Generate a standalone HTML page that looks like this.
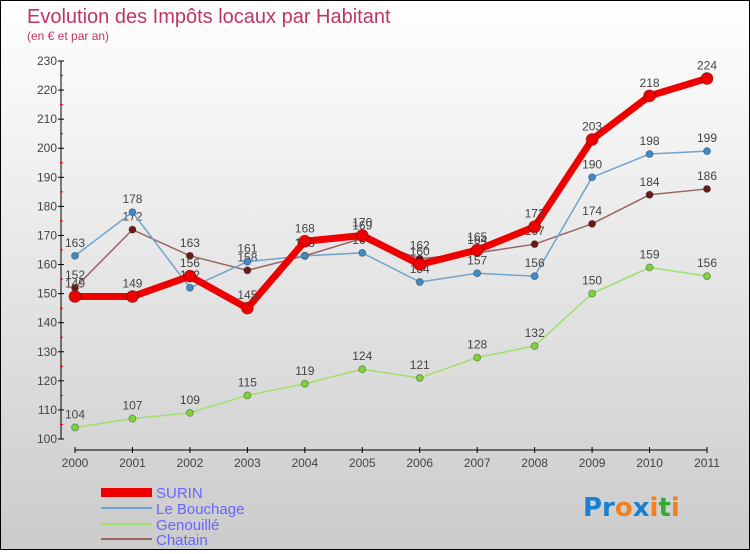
<!DOCTYPE html>
<html><head><meta charset="utf-8"><style>
body{margin:0}
#c{width:748px;height:548px;border:1px solid #000;background:linear-gradient(#fff,#f0f0f0 30%,#cbcbcb);position:relative;font-family:"Liberation Sans",sans-serif}
</style></head><body>
<div id="c">
<svg id="s" width="748" height="548" xmlns="http://www.w3.org/2000/svg">
<text x="26" y="22" font-size="20" fill="#c0355f">Evolution des Impôts locaux par Habitant</text>
<text x="26" y="39" font-size="12" fill="#c0355f">(en € et par an)</text>
<g id="g"></g>
<g>
<rect x="100" y="487" width="51" height="9" fill="#e00"/>
<text x="155" y="497" font-size="15" fill="#66f">SURIN</text>
<line x1="100" y1="507" x2="151" y2="507" stroke="#6fa3cf" stroke-width="2"/>
<text x="155" y="513" font-size="15" fill="#66f">Le Bouchage</text>
<line x1="100" y1="523" x2="151" y2="523" stroke="#9de06a" stroke-width="2"/>
<text x="155" y="529" font-size="15" fill="#66f">Genouillé</text>
<line x1="100" y1="538" x2="151" y2="538" stroke="#9a6565" stroke-width="2"/>
<text x="155" y="544" font-size="15" fill="#66f">Chatain</text>
</g>
<text x="582" y="515" font-size="26" font-weight="bold" font-family="DejaVu Sans,sans-serif"><tspan fill="#1a7fd0">Pr</tspan><tspan fill="#f08020">o</tspan><tspan fill="#1a7fd0">x</tspan><tspan fill="#f08020">i</tspan><tspan fill="#3a3">t</tspan><tspan fill="#f08020">i</tspan></text>
</svg></div>
<script>
const years=["2000","2001","2002","2003","2004","2005","2006","2007","2008","2009","2010","2011"];
const surin=[149,149,156,145,168,170,160,165,173,203,218,224];
const bouchage=[163,178,152,161,163,164,154,157,156,190,198,199];
const genouille=[104,107,109,115,119,124,121,128,132,150,159,156];
const chatain=[152,172,163,158,163,169,162,164,167,174,184,186];
const yTicks=[100,110,120,130,140,150,160,170,180,190,200,210,220,230];
const NS="http://www.w3.org/2000/svg";
const g=document.getElementById('g');
const X=i=>74+i*(632/11);
const Y=v=>438-(v-100)*(378/130);
function el(t,a){const e=document.createElementNS(NS,t);for(const k in a)e.setAttribute(k,a[k]);g.appendChild(e);return e;}
let e=el('line',{x1:60,y1:Y(230),x2:60,y2:Y(100),stroke:'#000'});

e=el('line',{x1:74,y1:449,x2:706,y2:449,stroke:'#000'});

yTicks.forEach((v,i)=>{
 let t=el('line',{x1:57,y1:Y(v),x2:63,y2:Y(v),stroke:'#000'});
 
 if(i<yTicks.length-1){let m=el('line',{x1:59,y1:Y(v+5),x2:62,y2:Y(v+5),stroke:'#e00'});
 }
 let l=el('text',{x:56,y:Y(v)+4,'font-size':12,fill:'#444','text-anchor':'end'});l.textContent=v;
 
});
years.forEach((y,i)=>{
 let t=el('line',{x1:X(i),y1:446,x2:X(i),y2:452,stroke:'#000'});
 
 let l=el('text',{x:X(i),y:466,'font-size':12,fill:'#444','text-anchor':'middle'});l.textContent=y;
 
});
function series(d,col,w,r,dot,name){
 let p=el('polyline',{points:d.map((v,i)=>X(i)+','+Y(v)).join(' '),fill:'none',stroke:col,'stroke-width':w,'stroke-linejoin':'round'});
 
 d.forEach((v,i)=>{
  let c=el('circle',{cx:X(i),cy:Y(v),r:r,fill:dot,stroke:'rgba(0,0,0,0.3)'});
  
  let l=el('text',{x:X(i),y:Y(v)-9,'font-size':12,fill:'#444','text-anchor':'middle'});l.textContent=v;
  
 });
}
series(genouille,'#9de06a',1.5,3.5,'#7ed23a','genouille');
series(chatain,'#9a6565',1.5,3.5,'#6b1a1a','chatain');
series(bouchage,'#6fa3cf',1.5,3.5,'#3f8ac8','le-bouchage');
series(surin,'#e00',7,6,'#e00','surin');
</script>
</body></html>
